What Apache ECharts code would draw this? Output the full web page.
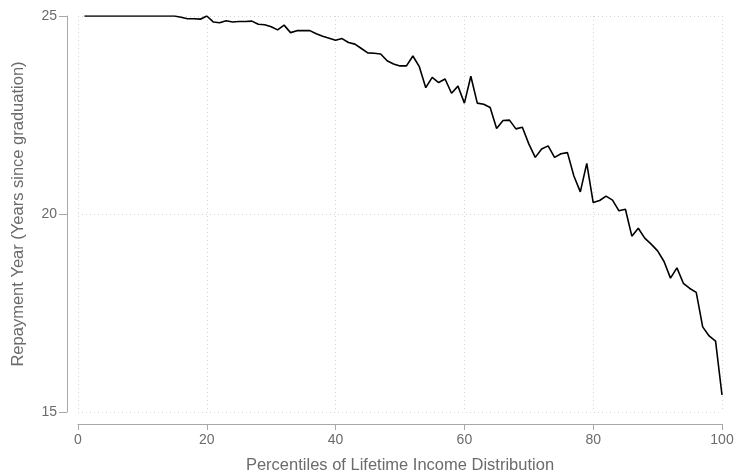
<!DOCTYPE html>
<html>
<head>
<meta charset="utf-8">
<script src="https://cdn.jsdelivr.net/npm/echarts@6/dist/echarts.min.js"></script>
<style>
  html, body { margin: 0; padding: 0; background: #fff; }
  #chart { width: 738px; height: 475px; }
</style>
</head>
<body>
<div id="chart"></div>
<script>
// percentiles 1..100 of lifetime income distribution
var percentiles = [];
for (var i = 1; i <= 100; i++) percentiles.push(i);

// repayment year (years since graduation)
var repaymentYear = [
    25.00, 25.00, 25.00, 25.00, 25.00, 25.00, 25.00, 25.00, 25.00, 25.00,
    25.00, 25.00, 25.00, 25.00, 25.00, 24.97, 24.93, 24.93, 24.92, 25.00,
    24.85, 24.83, 24.88, 24.85, 24.86, 24.86, 24.87, 24.79, 24.78, 24.73,
    24.65, 24.77, 24.58, 24.63, 24.63, 24.63, 24.55, 24.49, 24.44, 24.39,
    24.43, 24.33, 24.29, 24.18, 24.07, 24.06, 24.04, 23.87, 23.79, 23.74,
    23.74, 23.99, 23.72, 23.19, 23.45, 23.32, 23.41, 23.05, 23.23, 22.80,
    23.48, 22.80, 22.77, 22.69, 22.16, 22.36, 22.37, 22.15, 22.19, 21.77,
    21.43, 21.64, 21.72, 21.43, 21.52, 21.55, 20.96, 20.56, 21.28, 20.29,
    20.34, 20.45, 20.35, 20.08, 20.12, 19.44, 19.64, 19.39, 19.24, 19.07,
    18.80, 18.38, 18.64, 18.25, 18.12, 18.02, 17.15, 16.92, 16.79, 15.43
];

var xTicks = { min: 0, max: 100, interval: 20 };
var yTicks = { min: 15, max: 25, interval: 5 };

var myChart = echarts.init(document.getElementById('chart'));

var textColor = '#6b6b6b';
var axisColor = '#a8a8a8';
var fontFamily = '"Liberation Sans", Arial, sans-serif';

var option = {
    backgroundColor: '#fff',
    animation: false,
    grid: {
        left: 78,
        right: 16,
        top: 16,
        bottom: 63,
        containLabel: false,
        outerBoundsMode: 'none'
    },
    xAxis: {
        type: 'value',
        min: xTicks.min,
        max: xTicks.max,
        interval: xTicks.interval,
        offset: 12,
        name: 'Percentiles of Lifetime Income Distribution',
        nameLocation: 'middle',
        nameGap: 33,
        nameTextStyle: { color: textColor, fontSize: 16.5, fontFamily: fontFamily },
        axisLine: { show: true, onZero: false, lineStyle: { color: axisColor, width: 1 } },
        axisTick: { show: true, length: 6, lineStyle: { color: axisColor } },
        axisLabel: { color: textColor, fontSize: 14, fontFamily: fontFamily, margin: 9 },
        splitLine: { show: true, lineStyle: { color: '#d4d4d4', type: [1, 3], width: 1 } }
    },
    yAxis: {
        type: 'value',
        min: yTicks.min,
        max: yTicks.max,
        interval: yTicks.interval,
        offset: 11,
        name: 'Repayment Year (Years since graduation)',
        nameLocation: 'middle',
        nameGap: 40,
        nameTextStyle: { color: textColor, fontSize: 16.5, fontFamily: fontFamily },
        axisLine: { show: true, onZero: false, lineStyle: { color: axisColor, width: 1 } },
        axisTick: { show: true, length: 8, lineStyle: { color: axisColor } },
        axisLabel: { color: textColor, fontSize: 14, fontFamily: fontFamily, margin: 10 },
        splitLine: { show: true, lineStyle: { color: '#d4d4d4', type: [1, 3], width: 1 } }
    },
    series: [{
        type: 'line',
        data: percentiles.map(function (p, i) { return [p, repaymentYear[i]]; }),
        showSymbol: false,
        symbol: 'none',
        lineStyle: { color: '#000', width: 1.6 }
    }]
};

myChart.setOption(option);
</script>
</body>
</html>
